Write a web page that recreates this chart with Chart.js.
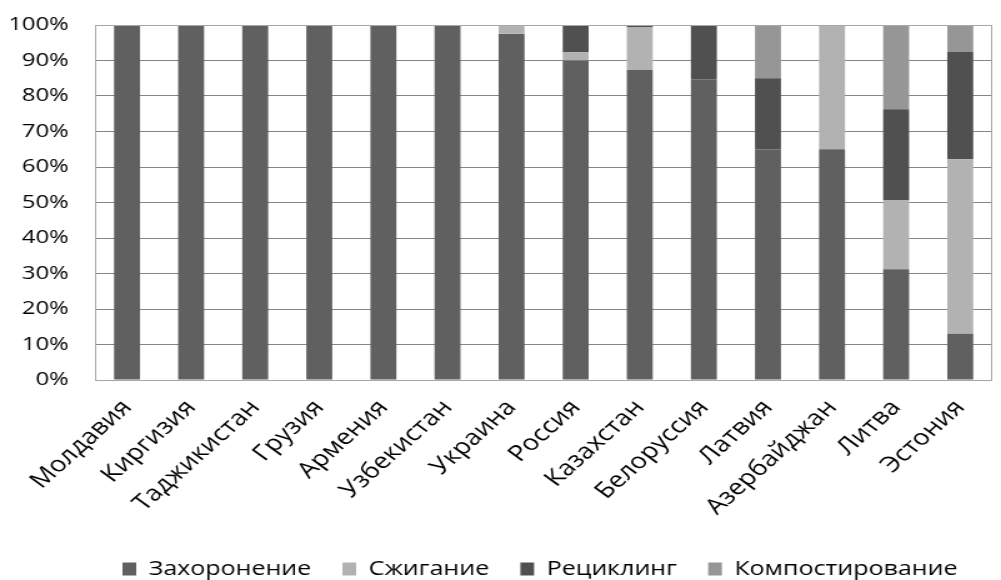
<!DOCTYPE html>
<html>
<head>
<meta charset="utf-8">
<script src="https://cdn.jsdelivr.net/npm/chart.js@4/dist/chart.umd.min.js"></script>
<style>
  html, body { margin: 0; padding: 0; background: #fff; overflow: hidden; }
  /* the reference is stretched sideways, so the chart is drawn narrower and widened */
  #wrap { width: 801px; height: 580px; transform: scaleX(1.2497); transform-origin: 0 0; }
</style>
</head>
<body>
<div id="wrap"><canvas id="chart"></canvas></div>
<script>
// Categories and series (share of waste, %)
const countries = ['Молдавия', 'Киргизия', 'Таджикистан', 'Грузия', 'Армения', 'Узбекистан', 'Украина',
  'Россия', 'Казахстан', 'Белоруссия', 'Латвия', 'Азербайджан', 'Литва', 'Эстония'];
const landfill   = [100, 100, 100, 100, 100, 100, 97.5, 90, 87.3, 84.7, 65, 65, 31.2, 13];
const incinerate = [0, 0, 0, 0, 0, 0, 2.5, 2.3, 12, 0, 0, 35, 19.5, 49.2];
const recycling  = [0, 0, 0, 0, 0, 0, 0, 7.7, 0.7, 15.3, 20, 0, 25.6, 30.2];
const compost    = [0, 0, 0, 0, 0, 0, 0, 0, 0, 0, 15, 0, 23.7, 7.6];
const seriesNames = ['Захоронение', 'Сжигание', 'Рециклинг', 'Компостирование'];
const yTicks = [0, 10, 20, 30, 40, 50, 60, 70, 80, 90, 100];

const fontFamily = '"Open Sans", sans-serif';

// light frame round the plot area
const plotFrame = {
  id: 'plotFrame',
  afterDraw(chart) {
    const { ctx, chartArea: a } = chart;
    ctx.save();
    ctx.strokeStyle = '#a6a6a6';
    ctx.lineWidth = 1;
    ctx.strokeRect(a.left + 0.5, a.top + 0.5, a.right - a.left - 1, a.bottom - a.top);
    ctx.restore();
  }
};

// move the legend row so it starts under the plot, not at the canvas edge
const legendShift = {
  id: 'legendShift',
  afterLayout(chart) {
    if (chart.legend) chart.legend.left = 73;
  }
};

const ctx = document.getElementById('chart').getContext('2d');
const chart = new Chart(ctx, {
  type: 'bar',
  data: {
    labels: countries,
    datasets: [
      { label: seriesNames[0], data: landfill, backgroundColor: '#606060' },
      { label: seriesNames[1], data: incinerate, backgroundColor: '#b2b2b2' },
      { label: seriesNames[2], data: recycling, backgroundColor: '#505050' },
      { label: seriesNames[3], data: compost, backgroundColor: '#969696' }
    ]
  },
  options: {
    responsive: true,
    maintainAspectRatio: false,
    animation: false,
    devicePixelRatio: 1,
    layout: { padding: { left: 0, right: 7, top: 25, bottom: -9 } },
    datasets: { bar: { categoryPercentage: 1, barPercentage: 0.405 } },
    scales: {
      x: {
        stacked: true,
        grid: { display: false },
        border: { display: false },
        afterFit(axis) { axis.height = 154; },
        ticks: {
          color: '#000',
          font: { family: fontFamily, size: 22 },
          minRotation: 48, maxRotation: 48,
          padding: 7,
          autoSkip: false
        }
      },
      y: {
        stacked: true,
        min: 0, max: 100,
        afterBuildTicks(axis) { axis.ticks = yTicks.map(v => ({ value: v })); },
        afterFit(axis) { axis.width = 76; axis.paddingTop = 0; },
        grid: { color: '#868686', lineWidth: 1, drawTicks: false },
        border: { display: false },
        ticks: {
          color: '#000',
          font: { family: fontFamily, size: 19 },
          padding: 21,
          callback: v => v + '%'
        }
      }
    },
    plugins: {
      legend: {
        position: 'bottom',
        align: 'start',
        labels: {
          color: '#000',
          font: { family: fontFamily, size: 20 },
          boxWidth: 11, boxHeight: 13,
          padding: 25
        }
      },
      tooltip: { enabled: false }
    }
  },
  plugins: [plotFrame, legendShift]
});
</script>
</body>
</html>
